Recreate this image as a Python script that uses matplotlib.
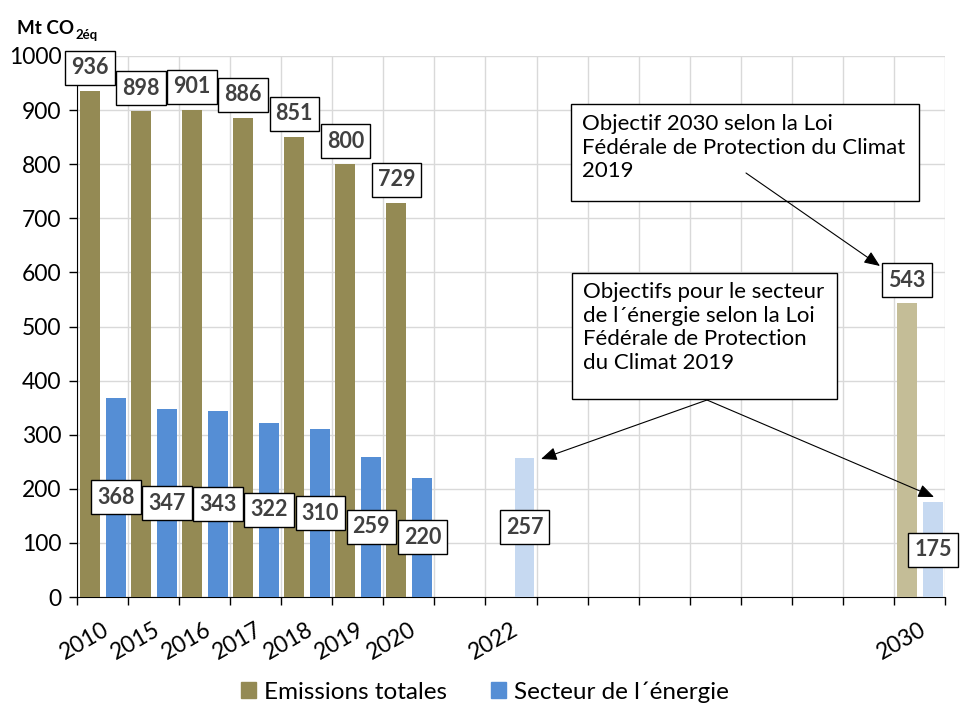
import numpy as np
import matplotlib
matplotlib.use("Agg")
import matplotlib.pyplot as plt
from matplotlib.patches import Rectangle, Patch
from matplotlib.transforms import ScaledTranslation, IdentityTransform

plt.rcParams['font.family'] = ['Lato', 'DejaVu Sans']

# ---- data ----
years = ['2010', '2015', '2016', '2017', '2018', '2019', '2020', '2021', '2022',
         '2023', '2024', '2025', '2026', '2027', '2028', '2029', '2030']
tick_labels = ['2010', '2015', '2016', '2017', '2018', '2019', '2020', '', '2022',
               '', '', '', '', '', '', '', '2030']
total = [936, 898, 901, 886, 851, 800, 729, None, None,
         None, None, None, None, None, None, None, 543]
energy = [368, 347, 343, 322, 310, 259, 220, None, 257,
          None, None, None, None, None, None, None, 175]
target_years = ['2022', '2030']
series_names = ['Emissions totales', 'Secteur de l\u00b4\u00e9nergie']
note_total = 'Objectif 2030 selon la Loi\nF\u00e9d\u00e9rale de Protection du Climat\n2019'
note_energy = ('Objectifs pour le secteur\nde l\u00b4\u00e9nergie selon la Loi\n'
               'F\u00e9d\u00e9rale de Protection\ndu Climat 2019')

# ---- styles ----
c_total = '#948A54'
c_total_light = '#C4BD97'
c_energy = '#558ED5'
c_energy_light = '#C6D9F1'
lbl_color = '#404040'

fig = plt.figure(figsize=(9.6, 7.2), dpi=100)
W, H = 960, 720
ax = fig.add_axes([77 / W, 1 - 597 / H, (945 - 77) / W, (597 - 56) / H])

n = len(years)
x = np.arange(n)
bw = 0.39
off_t, off_e = -0.245, 0.265

value_labels = []
for i, (yr, t, e) in enumerate(zip(years, total, energy)):
    target = yr in target_years
    if t is not None:
        ax.bar(i + off_t, t, width=bw, color=c_total_light if target else c_total, zorder=3)
        value_labels.append(
            ax.annotate(str(t), (i + off_t, t), xytext=(0, 23), textcoords='offset pixels',
                        ha='center', va='center', fontsize=15.5, fontweight='bold',
                        color=lbl_color, zorder=7))
    if e is not None:
        ax.bar(i + off_e, e, width=bw, color=c_energy_light if target else c_energy, zorder=3)
        value_labels.append(
            ax.annotate(str(e), (i + off_e, e / 2), xytext=(0, 0), textcoords='offset pixels',
                        ha='center', va='center', fontsize=15.5, fontweight='bold',
                        color=lbl_color, zorder=7))

ax.set_xlim(-0.5, n - 0.5)
ax.set_ylim(0, 1000)
ax.set_yticks(np.arange(0, 1001, 100))
ax.set_xticks(x)
ax.set_xticklabels(tick_labels)
ax.set_xticks(np.arange(-0.5, n, 1), minor=True)
ax.tick_params(axis='x', which='major', length=0, pad=22, labelsize=16.5)
ax.tick_params(axis='x', which='minor', length=6, width=1, direction='out')
ax.tick_params(axis='y', length=6, width=1, direction='out', labelsize=16.5, pad=5)
for lab in ax.get_xticklabels():
    lab.set_rotation(30)
    lab.set_ha('right')
    lab.set_va('center')
    lab.set_rotation_mode('anchor')
    lab.set_transform(lab.get_transform() + ScaledTranslation(0.05, 0, fig.dpi_scale_trans))

ax.grid(axis='y', which='major', color='#D9D9D9', lw=1, zorder=0)
ax.grid(axis='x', which='minor', color='#D9D9D9', lw=1, zorder=0)
ax.grid(axis='x', which='major', visible=False)
for s in ['top', 'right']:
    ax.spines[s].set_visible(False)
ax.spines['left'].set_color('black')
ax.spines['bottom'].set_color('black')
ax.set_axisbelow(True)

# ---- y unit label ----
t1 = fig.text(17 / W, 1 - 34 / H, 'Mt CO', fontsize=13.5, fontweight='bold', ha='left',
              va='baseline')
fig.canvas.draw()
bb = t1.get_window_extent()
fig.text(bb.x1 / W + 1 / W, 1 - 39 / H, '2\u00e9q', fontsize=9.5, fontweight='bold',
         ha='left', va='baseline')

# ---- boxes around value labels (pixel sized) ----
fig.canvas.draw()
for tl in value_labels:
    ext = tl.get_window_extent()
    cx = (ext.x0 + ext.x1) / 2
    cy = (ext.y0 + ext.y1) / 2
    bw_px = ext.width + 12
    bh_px = 34
    ax.add_patch(Rectangle((cx - bw_px / 2, cy - bh_px / 2), bw_px, bh_px,
                           transform=IdentityTransform(), fc='white', ec='black',
                           lw=1.0, zorder=6, clip_on=False))

# ---- annotation boxes ----
def px2data(px, py):
    return ax.transData.inverted().transform((px, H - py))

def note_box(x0p, y0p, x1p, y1p, txt, dy):
    (dx0, dy1) = px2data(x0p, y0p)
    (dx1, dy0) = px2data(x1p, y1p)
    ax.add_patch(Rectangle((dx0, dy0), dx1 - dx0, dy1 - dy0, fc='white', ec='black',
                           lw=1.0, zorder=8, clip_on=False))
    tx, ty = px2data(x0p + 11, y0p + dy)
    ax.text(tx, ty, txt, ha='left', va='top', fontsize=16, linespacing=1.22,
            zorder=9, color='black')

note_box(571, 104, 919, 201, note_total, 10)
note_box(572, 273, 837, 399, note_energy, 9)

def arrow(p0, p1):
    a = px2data(*p0)
    b = px2data(*p1)
    ax.annotate('', xy=b, xytext=a,
                arrowprops=dict(arrowstyle='-|>,head_length=0.6,head_width=0.25',
                                color='black', lw=0.8,
                                mutation_scale=16, shrinkA=0, shrinkB=0),
                zorder=10, annotation_clip=False)

arrow((746, 173), (880, 266))
arrow((707, 400), (541, 459))
arrow((707, 400), (934, 497))

# ---- legend ----
handles = [Patch(color=c_total), Patch(color=c_energy)]
fig.legend(handles, series_names, loc='center', bbox_to_anchor=(485 / W, 1 - 692 / H),
           ncol=2, frameon=False, fontsize=17.5, handlelength=0.6, handleheight=0.6,
           handletextpad=0.35, columnspacing=1.8)

fig.savefig('out.png', dpi=100)
